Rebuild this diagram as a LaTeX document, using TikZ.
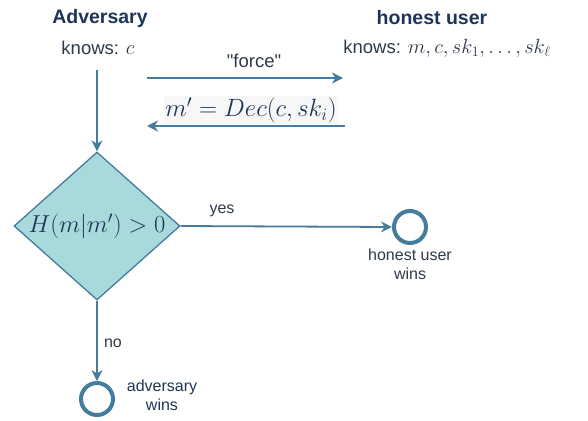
\RequirePackage{fix-cm}
\documentclass[tikz,border=0pt]{standalone}
\usepackage{fontspec}
\setmainfont{Liberation Sans}
\usetikzlibrary{shapes.geometric,arrows.meta}
\definecolor{navy}{HTML}{1D3557}
\definecolor{steel}{HTML}{457B9D}
\definecolor{teal}{HTML}{A8DADC}
\definecolor{txt}{HTML}{2E3A48}
\definecolor{bgg}{HTML}{F7F7F7}
\tikzset{
  title/.style={font=\fontsize{19.5}{22}\selectfont\bfseries, text=navy, inner sep=0pt},
  knowlbl/.style={font=\fontsize{18.5}{22}\selectfont, text=txt, inner sep=0pt},
  smalllbl/.style={font=\fontsize{16}{19}\selectfont, text=txt, inner sep=0pt, align=center},
  conn/.style={draw=steel, line width=1.8pt, -{Stealth[length=11pt,width=11pt,inset=3.5pt]}},
  decision/.style={shape=diamond, draw=steel, fill=teal, line width=1.3pt, inner sep=0pt,
    aspect=1.12, minimum width=166pt, minimum height=148pt},
  endstate/.style={shape=circle, draw=steel, line width=4pt, minimum size=32pt, inner sep=0pt},
}
\begin{document}
\begin{tikzpicture}[x=1pt,y=-1pt]
\useasboundingbox (0,0) rectangle (588,420);
\node[title] (adv) at (100,18) {Adversary};
\node[knowlbl] (advk) at (98,48) {knows: {\fontsize{20.5}{22}\selectfont$c$}};
\node[title] (hon) at (432,18) {honest user};
\node[knowlbl] (honk) at (447,48) {knows: {\fontsize{20.5}{22}\selectfont$m, c, sk_1, \ldots, sk_\ell$}};

\coordinate (f1) at (147,78);
\coordinate (f2) at (343,78);
\coordinate (r1) at (345,126);
\coordinate (r2) at (147,126);
\draw[conn] (f1) -- (f2);
\node[knowlbl] (force) at (254,61) {\textquotedbl force\textquotedbl};
\draw[conn] (r1) -- (r2);
\node[fill=bgg, inner sep=1pt, text=navy, font=\fontsize{25}{28}\selectfont] (dec) at (251,110) {$m' = Dec(c, sk_i)$};

\coordinate (v1) at (97,70);
\node[decision] (dia) at (97,226) {};
\node[text=navy, inner sep=0pt, font=\fontsize{24.5}{28}\selectfont] (dtxt) at (dia.center) {$H(m|m') > 0$};
\draw[conn] (v1) -- (dia.north);

\node[endstate] (hu) at (410,227) {};
\draw[conn] (dia.east) -- (hu.west);
\node[smalllbl] (yes) at (222,211) {yes};
\node[smalllbl, anchor=north] (hutxt) at (410,249) {honest user\\wins};

\node[endstate] (aw) at (97,399) {};
\draw[conn] (dia.south) -- (aw.north);
\node[smalllbl] (no) at (113,343) {no};
\node[smalllbl, anchor=north, text=navy] (awtxt) at (162,380) {adversary\\wins};
\end{tikzpicture}
\end{document}
